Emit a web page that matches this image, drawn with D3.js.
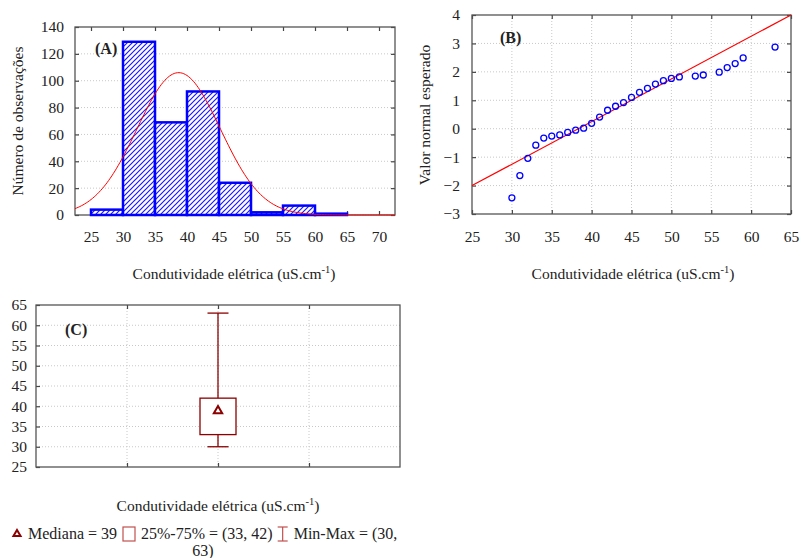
<!DOCTYPE html>
<html>
  <head>
    <meta charset="utf-8">
    <title>Condutividade elétrica</title>
    <script src="https://cdn.jsdelivr.net/npm/d3@7"></script>
    <style>
      body { margin: 0; background: #fff; }
      svg text { font-family: "Liberation Serif", "Times New Roman", serif; fill: #222; }
      .grid line { stroke: #c8c8c8; stroke-dasharray: 1,2; }
      .axis path { display: none; }
      .axis line { stroke: #444; stroke-width: 1.2; }
      .axis text { font-size: 15.5px; font-family: "Liberation Serif", serif; fill: #222; }
      .frame { fill: none; stroke: #555; stroke-width: 1.3; }
    </style>
  </head>
  <body>
    <svg id="chart" width="802" height="558"></svg>
    <script>
// --- data ---

// (A) histogram
var binStarts = [25, 30, 35, 40, 45, 50, 55, 60, 65];
var binCounts = [4, 129, 69, 92, 24, 2, 7, 1, 0];
var binWidth = 5;
var histXTicks = [25, 30, 35, 40, 45, 50, 55, 60, 65, 70];
var histYTicks = [0, 20, 40, 60, 80, 100, 120, 140];
// fitted normal curve
var fitMean = 38.7, fitSd = 6.5, fitPeak = 106;

// (B) normal probability plot
var qqValue = [30, 31, 32, 33, 34, 35, 36, 37, 38, 39, 40, 41, 42, 43, 44, 45, 46, 47, 48, 49, 50, 51, 53, 54, 56, 57, 58, 59, 63];
var qqExpected = [-2.43, -1.65, -1.04, -0.58, -0.33, -0.26, -0.22, -0.13, -0.05, 0.02, 0.19, 0.41, 0.65, 0.79, 0.92, 1.10, 1.28, 1.42, 1.57, 1.69, 1.77, 1.82, 1.85, 1.89, 1.99, 2.15, 2.29, 2.49, 2.87];
var qqLine = [[25, -2], [65, 4]];
var qqXTicks = [25, 30, 35, 40, 45, 50, 55, 60, 65];
var qqYTicks = [-3, -2, -1, 0, 1, 2, 3, 4];

// (C) box plot
var boxStats = { min: 30, q1: 33, median: 39, q3: 42, max: 63 };
var boxYTicks = [25, 30, 35, 40, 45, 50, 55, 60, 65];

var xTitle = "Condutividade elétrica (uS.cm";
var titleSize = 15.5;

var svg = d3.select("#chart");
var defs = svg.append("defs");

// blue diagonal hatching for the bars
var pat = defs.append("pattern")
    .attr("id", "hatch")
    .attr("patternUnits", "userSpaceOnUse")
    .attr("width", 5)
    .attr("height", 5);
pat.append("rect").attr("width", 5).attr("height", 5).attr("fill", "#fff");
pat.append("path")
    .attr("d", "M-1,1 l2,-2 M0,5 l5,-5 M4,6 l2,-2")
    .attr("stroke", "#1a1aff")
    .attr("stroke-width", 1.2);

// axis title with superscript -1
function addXTitle(g, x, y) {
  var t = g.append("text")
      .attr("x", x)
      .attr("y", y)
      .attr("text-anchor", "middle")
      .style("font-size", titleSize + "px");
  t.append("tspan").text(xTitle);
  t.append("tspan").attr("dy", -6).style("font-size", "10.5px").text("-1");
  t.append("tspan").attr("dy", 6).text(")");
}

function addYTitle(g, x, y, label) {
  g.append("text")
      .attr("transform", "translate(" + x + "," + y + ")rotate(-90)")
      .attr("text-anchor", "middle")
      .style("font-size", titleSize + "px")
      .text(label);
}

function panelLabel(g, x, y, label) {
  g.append("text")
      .attr("x", x)
      .attr("y", y)
      .style("font-size", "16px")
      .style("font-weight", "bold")
      .text(label);
}

/* ---------- (A) histogram ---------- */
(function() {
  var L = 75, R = 395, T = 27, B = 215;
  var x = d3.scaleLinear().domain([22.5, 72.5]).range([L, R]);
  var y = d3.scaleLinear().domain([0, 140]).range([B, T]);
  var g = svg.append("g");

  g.append("g").attr("class", "grid")
    .selectAll("line")
    .data(histYTicks.filter(function(d) { return d > 0 && d < 140; }))
    .enter().append("line")
      .attr("x1", L).attr("x2", R)
      .attr("y1", function(d) { return y(d); })
      .attr("y2", function(d) { return y(d); });

  g.append("g").attr("class", "axis")
      .attr("transform", "translate(" + L + ",0)")
      .call(d3.axisLeft(y).tickValues(histYTicks).tickSize(-4).tickPadding(11));
  g.append("g").attr("class", "axis")
      .attr("transform", "translate(" + R + ",0)")
      .call(d3.axisRight(y).tickValues(histYTicks).tickSize(-4).tickFormat(""));
  g.append("g").attr("class", "axis")
      .attr("transform", "translate(0," + T + ")")
      .call(d3.axisTop(x).tickValues(histXTicks).tickSize(-4).tickFormat(""));
  g.append("g").attr("class", "axis")
      .attr("transform", "translate(0," + B + ")")
      .call(d3.axisBottom(x).tickValues(histXTicks).tickSize(-4).tickPadding(16));

  g.append("rect").attr("class", "frame")
      .attr("x", L).attr("y", T).attr("width", R - L).attr("height", B - T);

  g.selectAll(".bar")
    .data(binStarts.map(function(d, i) { return { x0: d, n: binCounts[i] }; })
      .filter(function(d) { return d.n > 0; }))
    .enter().append("rect")
      .attr("class", "bar")
      .attr("x", function(d) { return x(d.x0); })
      .attr("width", function(d) { return x(d.x0 + binWidth) - x(d.x0); })
      .attr("y", function(d) { return y(d.n); })
      .attr("height", function(d) { return y(0) - y(d.n); })
      .attr("fill", "url(#hatch)")
      .attr("stroke", "#0000ff")
      .attr("stroke-width", 2.5);

  // normal fit curve
  var xs = d3.range(22.5, 72.51, 0.25);
  var line = d3.line()
      .x(function(d) { return x(d); })
      .y(function(d) {
        var z = (d - fitMean) / fitSd;
        return y(fitPeak * Math.exp(-0.5 * z * z));
      });
  g.append("path")
      .datum(xs)
      .attr("d", line)
      .attr("fill", "none")
      .attr("stroke", "#ff0000")
      .attr("stroke-width", 1);

  panelLabel(g, 95, 54, "(A)");
  addYTitle(g, 23, 121, "Número de observações");
  addXTitle(g, 234, 279);
})();

/* ---------- (B) normal probability plot ---------- */
(function() {
  var L = 472, R = 791, T = 15, B = 214;
  var x = d3.scaleLinear().domain([25, 65]).range([L, R]);
  var y = d3.scaleLinear().domain([-3, 4]).range([B, T]);
  var g = svg.append("g");

  var grid = g.append("g").attr("class", "grid");
  grid.selectAll(".h")
    .data(qqYTicks.filter(function(d) { return d > -3 && d < 4; }))
    .enter().append("line")
      .attr("x1", L).attr("x2", R)
      .attr("y1", function(d) { return y(d); })
      .attr("y2", function(d) { return y(d); });
  grid.selectAll(".v")
    .data(qqXTicks.filter(function(d) { return d > 25 && d < 65; }))
    .enter().append("line")
      .attr("y1", T).attr("y2", B)
      .attr("x1", function(d) { return x(d); })
      .attr("x2", function(d) { return x(d); });

  g.append("g").attr("class", "axis")
      .attr("transform", "translate(" + L + ",0)")
      .call(d3.axisLeft(y).tickValues(qqYTicks).tickFormat(d3.format("d")).tickSize(-4).tickPadding(12));
  g.append("g").attr("class", "axis")
      .attr("transform", "translate(" + R + ",0)")
      .call(d3.axisRight(y).tickValues(qqYTicks).tickSize(-4).tickFormat(""));
  g.append("g").attr("class", "axis")
      .attr("transform", "translate(0," + T + ")")
      .call(d3.axisTop(x).tickValues(qqXTicks).tickSize(-4).tickFormat(""));
  g.append("g").attr("class", "axis")
      .attr("transform", "translate(0," + B + ")")
      .call(d3.axisBottom(x).tickValues(qqXTicks).tickSize(-4).tickPadding(17));

  g.append("rect").attr("class", "frame")
      .attr("x", L).attr("y", T).attr("width", R - L).attr("height", B - T);

  g.append("path")
      .datum(qqLine)
      .attr("d", d3.line()
        .x(function(d) { return x(d[0]); })
        .y(function(d) { return y(d[1]); }))
      .attr("stroke", "#ff0000")
      .attr("stroke-width", 1.2)
      .attr("fill", "none");

  g.selectAll(".pt")
    .data(qqValue.map(function(d, i) { return [d, qqExpected[i]]; }))
    .enter().append("circle")
      .attr("class", "pt")
      .attr("cx", function(d) { return x(d[0]); })
      .attr("cy", function(d) { return y(d[1]); })
      .attr("r", 3)
      .attr("fill", "none")
      .attr("stroke", "#0000ff")
      .attr("stroke-width", 1.3);

  panelLabel(g, 500, 43, "(B)");
  addYTitle(g, 430, 115, "Valor normal esperado");
  addXTitle(g, 633, 279);
})();

/* ---------- (C) box plot ---------- */
(function() {
  var L = 36, R = 400, T = 305, B = 467;
  var x = d3.scaleLinear().domain([0, 4]).range([L, R]);
  var y = d3.scaleLinear().domain([25, 65]).range([B, T]);
  var cats = [1, 2, 3];
  var boxRed = "#8b0000";
  var g = svg.append("g");

  var grid = g.append("g").attr("class", "grid");
  grid.selectAll(".h")
    .data(boxYTicks.filter(function(d) { return d > 25 && d < 65; }))
    .enter().append("line")
      .attr("x1", L).attr("x2", R)
      .attr("y1", function(d) { return y(d); })
      .attr("y2", function(d) { return y(d); });
  grid.selectAll(".v")
    .data(cats)
    .enter().append("line")
      .attr("y1", T).attr("y2", B)
      .attr("x1", function(d) { return x(d); })
      .attr("x2", function(d) { return x(d); });

  g.append("g").attr("class", "axis")
      .attr("transform", "translate(" + L + ",0)")
      .call(d3.axisLeft(y).tickValues(boxYTicks).tickSize(-4).tickPadding(9));
  g.append("g").attr("class", "axis")
      .attr("transform", "translate(0," + T + ")")
      .call(d3.axisTop(x).tickValues(cats).tickSize(-4).tickFormat(""));
  g.append("g").attr("class", "axis")
      .attr("transform", "translate(0," + B + ")")
      .call(d3.axisBottom(x).tickValues(cats).tickSize(-4).tickFormat(""));

  g.append("rect").attr("class", "frame")
      .attr("x", L).attr("y", T).attr("width", R - L).attr("height", B - T);

  var cx = x(2), halfBox = 18, halfCap = 10.5;
  var s = boxStats;
  // whiskers
  g.append("line")
      .attr("x1", cx).attr("x2", cx)
      .attr("y1", y(s.max)).attr("y2", y(s.q3))
      .attr("stroke", boxRed).attr("stroke-width", 1.3);
  g.append("line")
      .attr("x1", cx).attr("x2", cx)
      .attr("y1", y(s.q1)).attr("y2", y(s.min))
      .attr("stroke", boxRed).attr("stroke-width", 1.3);
  [s.min, s.max].forEach(function(v) {
    g.append("line")
        .attr("x1", cx - halfCap).attr("x2", cx + halfCap)
        .attr("y1", y(v)).attr("y2", y(v))
        .attr("stroke", boxRed).attr("stroke-width", 1.3);
  });
  g.append("rect")
      .attr("x", cx - halfBox).attr("width", 2 * halfBox)
      .attr("y", y(s.q3)).attr("height", y(s.q1) - y(s.q3))
      .attr("fill", "#fff")
      .attr("stroke", boxRed).attr("stroke-width", 1.3);
  g.append("path")
      .attr("d", d3.symbol().type(d3.symbolTriangle).size(30))
      .attr("transform", "translate(" + cx + "," + (y(s.median) + 0.5) + ")")
      .attr("fill", "#fff")
      .attr("stroke", boxRed)
      .attr("stroke-width", 2);

  panelLabel(g, 65, 335, "(C)");
  addXTitle(g, 218, 511);

  // legend
  var leg = g.append("g").style("font-size", "16px");
  var lx = 28, ly = 539;
  leg.append("path")
      .attr("d", d3.symbol().type(d3.symbolTriangle).size(22))
      .attr("transform", "translate(17," + (ly - 5) + ")")
      .attr("fill", "#fff")
      .attr("stroke", boxRed)
      .attr("stroke-width", 2);
  var t1 = leg.append("text").attr("x", lx).attr("y", ly)
      .text("Mediana = " + s.median);
  lx += t1.node().getComputedTextLength() + 6;
  leg.append("rect")
      .attr("x", lx).attr("y", ly - 12).attr("width", 12).attr("height", 14)
      .attr("fill", "none").attr("stroke", "#c0504d").attr("stroke-width", 1.2);
  lx += 18;
  var t2 = leg.append("text").attr("x", lx).attr("y", ly)
      .text("25%-75% = (" + s.q1 + ", " + s.q3 + ")");
  lx += t2.node().getComputedTextLength() + 5;
  var ic = leg.append("g").attr("stroke", "#c0504d").attr("stroke-width", 1.2);
  ic.append("line").attr("x1", lx).attr("x2", lx + 10).attr("y1", ly - 12).attr("y2", ly - 12);
  ic.append("line").attr("x1", lx).attr("x2", lx + 10).attr("y1", ly + 2).attr("y2", ly + 2);
  ic.append("line").attr("x1", lx + 5).attr("x2", lx + 5).attr("y1", ly - 12).attr("y2", ly + 2);
  lx += 16;
  leg.append("text").attr("x", lx).attr("y", ly)
      .text("Min-Max = (" + s.min + ",");
  leg.append("text").attr("x", 203).attr("y", 556).attr("text-anchor", "middle")
      .text(s.max + ")");
})();
    </script>
  </body>
</html>
